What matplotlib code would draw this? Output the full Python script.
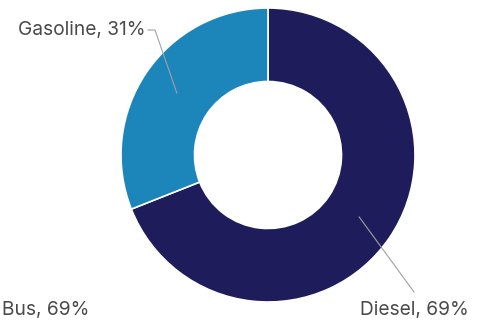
import numpy as np
import matplotlib
matplotlib.use("Agg")
import matplotlib.pyplot as plt

categories = ["Diesel", "Gasoline"]
values = [69, 31]
colors = ["#1f1c5c", "#1c86bb"]
extra_label = "Bus, 69%"

plt.rcParams['font.family'] = ['Inter', 'DejaVu Sans']

W, H = 486, 320
fig = plt.figure(figsize=(W / 100, H / 100), dpi=100)
ax = fig.add_axes([0, 0, 1, 1])
ax.set_xlim(0, W)
ax.set_ylim(0, H)
ax.set_aspect('equal')
ax.axis('off')

cx, cy = 268, H - 155
r_out = 147
wedges, _ = ax.pie(values, colors=colors, startangle=90, counterclock=False,
                   radius=r_out, center=(cx, cy), frame=True,
                   wedgeprops=dict(width=r_out * 0.5, edgecolor='white', linewidth=1.2))
ax.set_xlim(0, W)
ax.set_ylim(0, H)
ax.axis('off')

text_color = "#4a4a4a"
line_color = "#a0a0a0"
fs = 13.8
r_mid = r_out * 0.75

# label anchors (text position, leader end)
label_pos = {
    "Diesel": dict(text=(414, H - 310), ha='center', path=[(414, H - 292)]),
    "Gasoline": dict(text=(145, H - 30), ha='right', path=[(155, H - 30), (148, H - 30)]),
}

for w, cat, val in zip(wedges, categories, values):
    ang = np.deg2rad((w.theta1 + w.theta2) / 2)
    px, py = cx + r_mid * np.cos(ang), cy + r_mid * np.sin(ang)
    p = label_pos[cat]
    xs = [px] + [q[0] for q in p['path']]
    ys = [py] + [q[1] for q in p['path']]
    ax.plot(xs, ys, color=line_color, lw=0.8)
    ax.text(p['text'][0], p['text'][1], f"{cat}, {val}%", ha=p['ha'], va='center',
            fontsize=fs, color=text_color)

ax.text(2, H - 310, extra_label, ha='left', va='center', fontsize=fs, color=text_color)

fig.savefig("out.png", dpi=100, facecolor='white')
